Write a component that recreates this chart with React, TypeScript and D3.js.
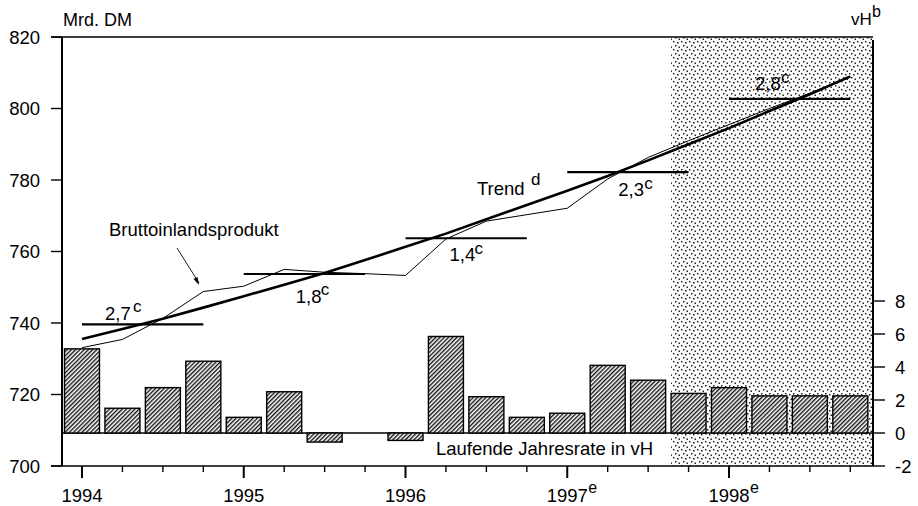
import React from "react";
import * as d3 from "d3";

// ---- data ----
const quarters = [1994, 1994.25, 1994.5, 1994.75, 1995, 1995.25, 1995.5, 1995.75, 1996, 1996.25, 1996.5, 1996.75, 1997, 1997.25, 1997.5, 1997.75, 1998, 1998.25, 1998.5, 1998.75];
const gdp = [733.1, 735.4, 741.3, 748.8, 750.3, 755.0, 754.2, 753.8, 753.3, 763.5, 768.5, 770.3, 772.1, 780.3, 786.3, 791.0, 795.5, 800.0, 804.3, 808.8];
const trend = [735.5, 738.3, 741.2, 744.3, 747.5, 750.7, 754.0, 757.6, 761.3, 765.0, 769.0, 773.0, 777.0, 781.1, 785.5, 790.0, 794.5, 799.3, 804.0, 809.0];
const growthRate = [5.1, 1.5, 2.75, 4.35, 0.95, 2.5, -0.55, 0, -0.45, 5.85, 2.2, 0.95, 1.2, 4.1, 3.2, 2.4, 2.75, 2.25, 2.25, 2.25];
const years = [1994, 1995, 1996, 1997, 1998];
const yearLabels = ["1994", "1995", "1996", "1997", "1998"];
const yearSup = ["", "", "", "e", "e"];
const annualLevel = [739.6, 753.7, 763.7, 782.2, 802.7];
const annualGrowth = ["2,7", "1,8", "1,4", "2,3", "2,8"];
const leftTicks = [700, 720, 740, 760, 780, 800, 820];
const rightTicks = [-2, 0, 2, 4, 6, 8];
const forecastFrom = 1997.75;

// ---- layout (positions only) ----
const L = 62, R = 873, T = 37, B = 466;
const barW = 35;
const levelLabelOffset = [
  { dx: 23, dy: -4, sx: 51, sy: -12 },
  { dx: 52, dy: 29, sx: 77, sy: 21 },
  { dx: 44, dy: 23, sx: 69, sy: 16 },
  { dx: 51, dy: 24, sx: 77, sy: 17 },
  { dx: 26, dy: -9, sx: 52, sy: -16 },
];
const FONT = "'Liberation Sans', Arial, Helvetica, sans-serif";

export default function App() {
  const x = d3.scaleLinear().domain([1994, 1998]).range([82, 729]);
  const yL = d3.scaleLinear().domain([700, 820]).range([B, T]);
  const yR = d3.scaleLinear().domain([-2, 8]).range([B, 301]);

  const line = d3
    .line<number>()
    .x((_, i) => x(quarters[i]))
    .y((d) => yL(d));

  const minorTicks = quarters.filter((q) => !years.includes(q));
  const shadeX = x(forecastFrom) - barW / 2;

  return (
    <svg
      width={918}
      height={506}
      style={{ position: "absolute", left: 0, top: 0, background: "#fff" }}
      fontFamily={FONT}
    >
      <defs>
        <pattern id="hatch" width="3" height="10" patternUnits="userSpaceOnUse" patternTransform="rotate(45)">
          <rect width="3" height="10" fill="#fff" />
          <line x1="0.7" y1="0" x2="0.7" y2="10" stroke="#111" strokeWidth="1.4" />
        </pattern>
        <pattern id="stipple" width="8" height="8" patternUnits="userSpaceOnUse">
          <rect x="1" y="1" width="1.5" height="1.5" fill="#222" />
          <rect x="5" y="2" width="1.5" height="1.5" fill="#222" />
          <rect x="3" y="5" width="1.5" height="1.5" fill="#222" />
          <rect x="6.5" y="6.5" width="1.5" height="1.5" fill="#222" />
        </pattern>
      </defs>

      {/* forecast shading */}
      <rect x={shadeX} y={T} width={R - shadeX} height={B - T} fill="url(#stipple)" />

      {/* frame lines */}
      <line x1={51} x2={R} y1={T} y2={T} stroke="#000" strokeWidth={1.6} />
      <line x1={51} x2={R} y1={B} y2={B} stroke="#000" strokeWidth={1.6} />
      <line x1={L} x2={L} y1={T} y2={B} stroke="#000" strokeWidth={2} />
      <line x1={R} x2={R} y1={T + 3} y2={B} stroke="#000" strokeWidth={2} />

      {/* left axis */}
      {leftTicks.map((t) => (
        <g key={"l" + t}>
          <line x1={51} x2={L} y1={yL(t)} y2={yL(t)} stroke="#000" strokeWidth={1.4} />
          <text x={40} y={yL(t) + 6.5} textAnchor="end" fontSize={18.5}>
            {t}
          </text>
        </g>
      ))}
      <text x={63} y={26} fontSize={18}>Mrd. DM</text>

      {/* right axis */}
      {rightTicks.map((t) => (
        <g key={"r" + t}>
          <line x1={R} x2={885} y1={yR(t)} y2={yR(t)} stroke="#000" strokeWidth={1.4} />
          <text x={895} y={yR(t) + 6.5} fontSize={18.5}>
            {t < 0 ? "-" + Math.abs(t) : t}
          </text>
        </g>
      ))}
      <text x={851} y={25} fontSize={17}>vH</text>
      <text x={872} y={17} fontSize={16}>b</text>

      {/* x axis */}
      {years.map((yv, i) => (
        <g key={"y" + yv}>
          <line x1={x(yv)} x2={x(yv)} y1={B} y2={478} stroke="#000" strokeWidth={2} />
          <text x={x(yv)} y={502} textAnchor="middle" fontSize={18.5}>
            {yearLabels[i]}
          </text>
          {yearSup[i] && (
            <text x={x(yv) + 21} y={493} fontSize={16}>
              {yearSup[i]}
            </text>
          )}
        </g>
      ))}
      {minorTicks.map((q) => (
        <line key={"m" + q} x1={x(q)} x2={x(q)} y1={B} y2={472} stroke="#000" strokeWidth={1.4} />
      ))}

      {/* zero line */}
      <line x1={L} x2={R} y1={yR(0)} y2={yR(0)} stroke="#000" strokeWidth={1.5} />

      {/* bars */}
      {growthRate.map((v, i) =>
        v === 0 ? null : (
          <rect
            key={"b" + i}
            x={x(quarters[i]) - barW / 2}
            y={yR(Math.max(v, 0))}
            width={barW}
            height={Math.abs(yR(v) - yR(0))}
            fill="url(#hatch)"
            stroke="#000"
            strokeWidth={1.4}
          />
        )
      )}
      <text x={436} y={455} fontSize={18.5}>Laufende Jahresrate in vH</text>

      {/* annual levels */}
      {years.map((yv, i) => {
        const x0 = x(yv);
        const y0 = yL(annualLevel[i]);
        const o = levelLabelOffset[i];
        return (
          <g key={"lv" + yv}>
            <line x1={x0} x2={x(yv + 0.75)} y1={y0} y2={y0} stroke="#000" strokeWidth={2.2} />
            <text x={x0 + o.dx} y={y0 + o.dy} fontSize={18.5}>
              {annualGrowth[i]}
            </text>
            <text x={x0 + o.sx} y={y0 + o.sy} fontSize={17}>
              c
            </text>
          </g>
        );
      })}

      {/* GDP and trend */}
      <path d={line(gdp) || ""} fill="none" stroke="#000" strokeWidth={1} />
      <path d={line(trend) || ""} fill="none" stroke="#000" strokeWidth={2.6} />

      <text x={477} y={195} fontSize={18.5}>Trend</text>
      <text x={531} y={185} fontSize={17}>d</text>

      <text x={109} y={236} fontSize={18.5}>Bruttoinlandsprodukt</text>
      <line x1={177} y1={248} x2={199} y2={283} stroke="#000" strokeWidth={0.9} />
      <path d="M199,285 L193.5,279 L197.5,277 Z" fill="#000" />
    </svg>
  );
}
